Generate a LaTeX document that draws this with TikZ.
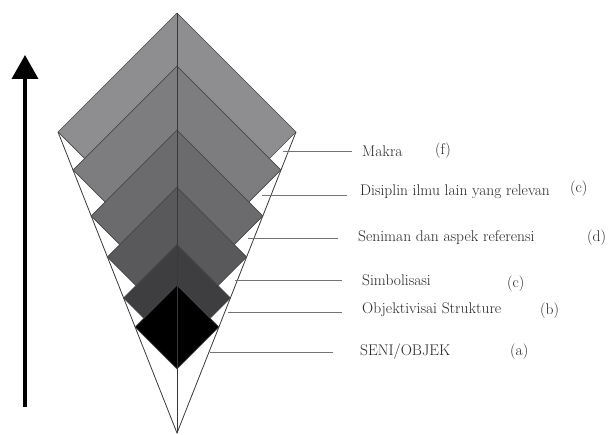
\documentclass[tikz,border=0pt]{standalone}
\usepackage{fontspec}
\definecolor{lvlA}{HTML}{8E8E90}
\definecolor{lvlB}{HTML}{7D7D7F}
\definecolor{lvlC}{HTML}{6B6B6D}
\definecolor{lvlD}{HTML}{59595B}
\definecolor{lvlE}{HTML}{3E3E40}
\usepackage{tikz}
\usetikzlibrary{arrows.meta, positioning, calc}

\begin{document}
\begin{tikzpicture}[x=1pt, y=-1pt,
  funnel/.style={draw=black!78, line width=0.8pt},
  lvl/.style={draw=black!72, line width=0.7pt},
  tick/.style={draw=black!55, line width=0.8pt},
  lbl/.style={anchor=west, inner sep=0pt, font=\fontsize{15.5}{17}\selectfont, text=black!85}]
  \useasboundingbox (0,0) rectangle (613,435);
  % funnel
  \coordinate (apex) at (177,433);
  \coordinate (tl) at (58,132);
  \coordinate (tr) at (296,132);
  \coordinate (tip) at (177,13);
  \draw[funnel] (tl) -- (apex) -- (tr);
  % nested diamonds, corners sit on the funnel
  \foreach \yc/\col in {132/lvlA, 170/lvlB, 216/lvlC, 257/lvlD, 298/lvlE, 327/black}{
    \pgfmathsetmacro{\h}{119/301*(433-\yc)}
    \filldraw[lvl, fill=\col] (177,\yc-\h) -- (177+\h,\yc) -- (177,\yc+\h) -- (177-\h,\yc) -- cycle;
  }
  \draw[funnel] (tip) -- (apex);
  % growth arrow
  \coordinate (arrLow) at (25,407);
  \coordinate (arrHigh) at (25,55);
  \draw[line width=3.5pt, -{Triangle[length=24pt, width=26pt]}] (arrLow) -- (arrHigh);
  % labels
  \node[lbl] (makra) at (362,151) {Makra};
  \node[lbl] (tagF) at (435,151) {(f)};
  \node[lbl] (disiplin) at (360,192) {Disiplin ilmu lain yang relevan};
  \node[lbl] (tagE) at (570,189) {(c)};
  \node[lbl] (seniman) at (358,238) {Seniman dan aspek referensi};
  \node[lbl] (tagD) at (587,238) {(d)};
  \node[lbl] (simbol) at (362,280) {Simbolisasi};
  \node[lbl] (tagC) at (507,284) {(c)};
  \node[lbl] (objek) at (362,310) {Objektivisai Strukture};
  \node[lbl] (tagB) at (540,311) {(b)};
  \node[lbl] (seni) at (360,352) {SENI/OBJEK};
  \node[lbl] (tagA) at (510,352) {(a)};
  \coordinate (fS) at (283,151);
  \coordinate (eS) at (262,195);
  \coordinate (dS) at (248,238);
  \coordinate (cS) at (235,280);
  \coordinate (bS) at (228,312);
  \coordinate (aS) at (210,352);
  \draw[tick, shorten >=10pt] (fS) -- (fS -| makra.west);
  \draw[tick, shorten >=13pt] (eS) -- (eS -| disiplin.west);
  \draw[tick, shorten >=20pt] (dS) -- (dS -| seniman.west);
  \draw[tick, shorten >=20pt] (cS) -- (cS -| simbol.west);
  \draw[tick, shorten >=20pt] (bS) -- (bS -| objek.west);
  \draw[tick, shorten >=27pt] (aS) -- (aS -| seni.west);
\end{tikzpicture}
\end{document}
